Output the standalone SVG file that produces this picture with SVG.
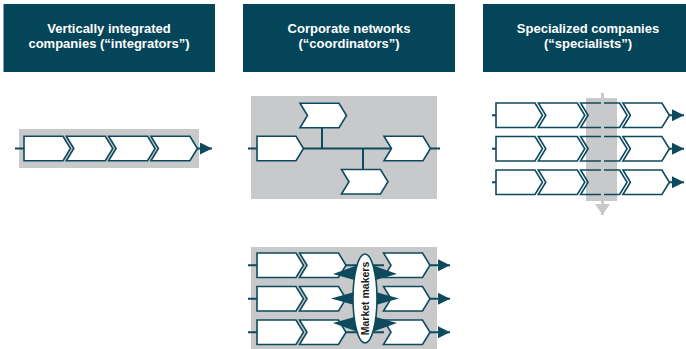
<svg xmlns="http://www.w3.org/2000/svg" xmlns:xlink="http://www.w3.org/1999/xlink" width="686" height="349" viewBox="0 0 686 349">
<style>
.hdr{fill:#05455a}
.ht{font-family:"Liberation Sans",Arial,sans-serif;font-weight:bold;font-size:13px;fill:#fff;text-anchor:middle}
.panel{fill:#c8c9cb}
.ch{fill:#fff;stroke:#0e4a5e;stroke-width:1.6;stroke-linejoin:miter}
.chn{fill:none;stroke:#0e4a5e;stroke-width:1.6}
.ln{stroke:#0e4a5e;stroke-width:2;fill:none}
.arr{stroke:#0e4a5e;stroke-width:2;fill:none;marker-end:url(#ah)}
.spike{fill:#0e4a5e}
.mm{font-family:"Liberation Sans",Arial,sans-serif;font-weight:bold;font-size:10.5px;fill:#1a1a1a;text-anchor:middle}
</style>
<defs>
<marker id="ah" markerUnits="userSpaceOnUse" markerWidth="13" markerHeight="12" refX="12" refY="6" orient="auto">
<path d="M0,0 L12,6 L0,12 Z" fill="#0e4a5e"/>
</marker>
<marker id="ahg" markerUnits="userSpaceOnUse" markerWidth="16" markerHeight="12" refX="7.5" refY="11" orient="0">
<path d="M0,0 L15,0 L7.5,11 Z" fill="#c8c9cb"/>
</marker>
<path id="cf" d="M0,0 H39 L46.5,12.25 L39,24.5 H0 Z"/>
<path id="cn" d="M0,0 H39 L46.5,12.25 L39,24.5 H0 L7.5,12.25 Z"/>
</defs>

<g id="headers">
<g id="h1"><rect class="hdr" x="3.5" y="4" width="211.5" height="68"/>
<text class="ht" x="109" y="33">Vertically integrated</text>
<text class="ht" x="109" y="48">companies (“integrators”)</text></g>
<g id="h2"><rect class="hdr" x="243" y="4" width="212" height="68"/>
<text class="ht" x="349" y="33">Corporate networks</text>
<text class="ht" x="349" y="48">(“coordinators”)</text></g>
<g id="h3"><rect class="hdr" x="483" y="4" width="203" height="68"/>
<text class="ht" x="588" y="33">Specialized companies</text>
<text class="ht" x="588" y="48">(“specialists”)</text></g>
</g>

<g id="integrators">
<rect class="panel" x="19" y="129" width="180" height="39"/>
<line class="ln" x1="15" y1="148.5" x2="24" y2="148.5"/>
<line class="arr" x1="196" y1="148.5" x2="212" y2="148.5"/>
<use xlink:href="#cf" class="ch" x="24" y="136.25"/>
<use xlink:href="#cn" class="ch" x="66.3" y="136.25"/>
<use xlink:href="#cn" class="ch" x="108.6" y="136.25"/>
<use xlink:href="#cn" class="ch" x="150.9" y="136.25"/>
</g>

<g id="coordinators">
<rect class="panel" x="251" y="96" width="186" height="103"/>
<g id="coord-connectors">
<line class="ln" x1="248" y1="148.5" x2="440" y2="148.5"/>
<line class="ln" x1="322" y1="127" x2="322" y2="148.5"/>
<line class="ln" x1="363" y1="148.5" x2="363" y2="170"/>
</g>
<use xlink:href="#cf" class="ch" x="257" y="136.25"/>
<use xlink:href="#cn" class="ch" x="300" y="103.25"/>
<use xlink:href="#cn" class="ch" x="384" y="136.25"/>
<use xlink:href="#cn" class="ch" x="341.5" y="169.5"/>
</g>

<g id="specialists">
<rect class="panel" x="586" y="98" width="31" height="103"/>
<g id="spec-connectors">
<line class="ln" x1="492" y1="115.25" x2="496" y2="115.25"/>
<line class="ln" x1="492" y1="148.75" x2="496" y2="148.75"/>
<line class="ln" x1="492" y1="182.25" x2="496" y2="182.25"/>
<line class="arr" x1="669" y1="115.25" x2="684" y2="115.25"/>
<line class="arr" x1="669" y1="148.75" x2="684" y2="148.75"/>
<line class="arr" x1="669" y1="182.25" x2="684" y2="182.25"/>
</g>
<use xlink:href="#cf" class="chn" x="496" y="103"/>
<use xlink:href="#cn" class="chn" x="538.3" y="103"/>
<use xlink:href="#cn" class="chn" x="580.6" y="103"/>
<use xlink:href="#cn" class="chn" x="622.9" y="103"/>
<use xlink:href="#cf" class="chn" x="496" y="136.5"/>
<use xlink:href="#cn" class="chn" x="538.3" y="136.5"/>
<use xlink:href="#cn" class="chn" x="580.6" y="136.5"/>
<use xlink:href="#cn" class="chn" x="622.9" y="136.5"/>
<use xlink:href="#cf" class="chn" x="496" y="170"/>
<use xlink:href="#cn" class="chn" x="538.3" y="170"/>
<use xlink:href="#cn" class="chn" x="580.6" y="170"/>
<use xlink:href="#cn" class="chn" x="622.9" y="170"/>
<line x1="602.5" y1="93" x2="602.5" y2="215" stroke="#c8c9cb" stroke-width="3" marker-end="url(#ahg)"/>
</g>

<g id="market-makers">
<rect class="panel" x="251" y="247" width="186" height="102"/>
<g id="mm-connectors">
<line class="ln" x1="248" y1="265.25" x2="257" y2="265.25"/>
<line class="ln" x1="248" y1="298.75" x2="257" y2="298.75"/>
<line class="ln" x1="248" y1="332.25" x2="257" y2="332.25"/>
<line class="ln" x1="345" y1="265.25" x2="384" y2="265.25"/>
<line class="ln" x1="345" y1="298.75" x2="384" y2="298.75"/>
<line class="ln" x1="345" y1="332.25" x2="384" y2="332.25"/>
<line class="arr" x1="429" y1="265.25" x2="450" y2="265.25"/>
<line class="arr" x1="429" y1="298.75" x2="450" y2="298.75"/>
<line class="arr" x1="429" y1="332.25" x2="450" y2="332.25"/>
</g>
<use xlink:href="#cf" class="ch" x="257" y="253"/>
<use xlink:href="#cn" class="ch" x="299.5" y="253"/>
<use xlink:href="#cn" class="ch" x="383.5" y="253"/>
<use xlink:href="#cf" class="ch" x="257" y="286.5"/>
<use xlink:href="#cn" class="ch" x="299.5" y="286.5"/>
<use xlink:href="#cn" class="ch" x="383.5" y="286.5"/>
<use xlink:href="#cf" class="ch" x="257" y="320"/>
<use xlink:href="#cn" class="ch" x="299.5" y="320"/>
<use xlink:href="#cn" class="ch" x="383.5" y="320"/>
<g id="spikes">
<polygon class="spike" points="333,274 358,265 358,281"/>
<polygon class="spike" points="331,298.5 358,291 358,306"/>
<polygon class="spike" points="333,323 358,316 358,332"/>
<polygon class="spike" points="397,274 372,265 372,281"/>
<polygon class="spike" points="399,298.5 372,291 372,306"/>
<polygon class="spike" points="397,323 372,316 372,332"/>
</g>
<g id="mm-node">
<ellipse cx="365" cy="298.5" rx="12" ry="44.5" fill="#fff" stroke="#0e4a5e" stroke-width="1.6"/>
<text class="mm" transform="translate(368.8,298.5) rotate(-90)">Market makers</text>
</g>
</g>
</svg>
